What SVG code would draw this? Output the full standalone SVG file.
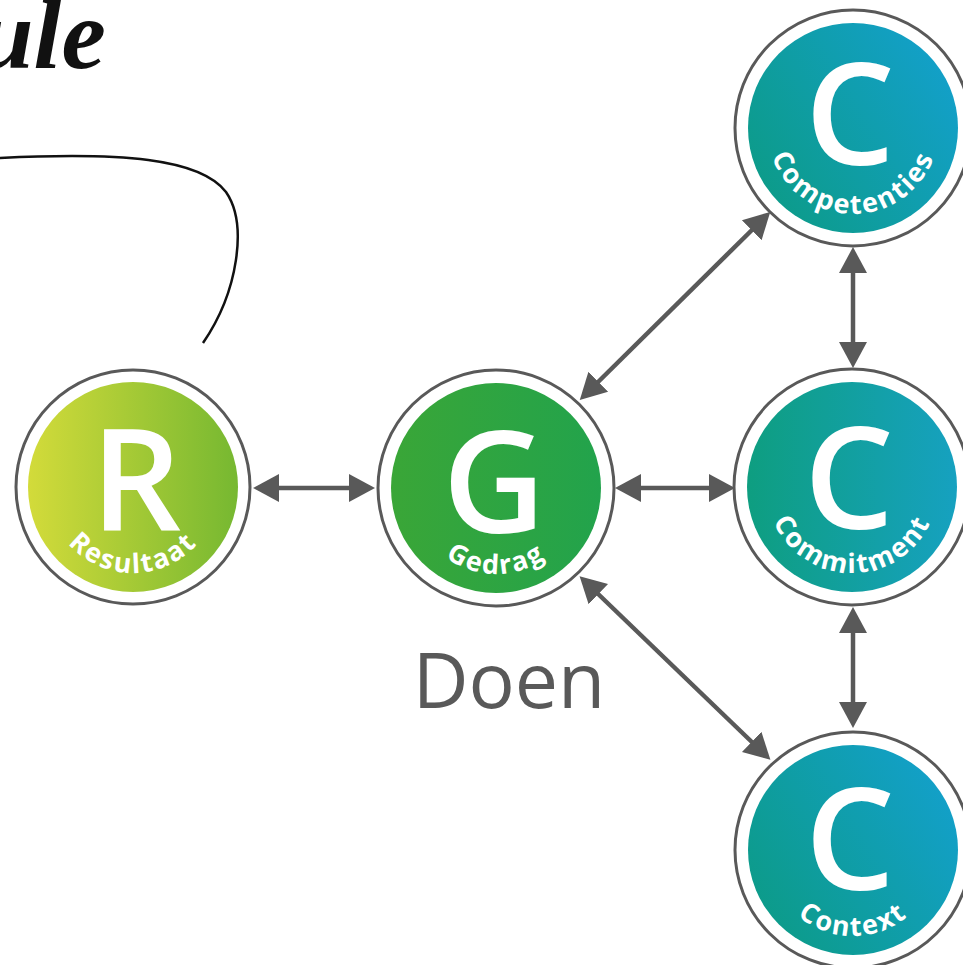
<svg xmlns="http://www.w3.org/2000/svg" width="963" height="965" viewBox="0 0 963 965">
<style>
.ring{fill:#fff;stroke:#595959;stroke-width:3}
.big{font-family:"Open Sans","DejaVu Sans",sans-serif;font-weight:600;font-size:142px;fill:#fff;text-anchor:middle}
.lbl{font-family:"Open Sans","DejaVu Sans",sans-serif;font-weight:700;font-size:27px;fill:#fff;letter-spacing:2px;text-anchor:middle}
.con{stroke:#595959;stroke-width:4.5;fill:none;marker-start:url(#ah);marker-end:url(#ah)}
</style>
<defs>
<marker id="ah" markerUnits="userSpaceOnUse" markerWidth="28" markerHeight="30" refX="6" refY="14" orient="auto-start-reverse" viewBox="0 0 28 28">
<path d="M0,0 L26,14 L0,28 z" fill="#595959"/>
</marker>
<linearGradient id="gR" x1="0" y1="0" x2="1" y2="0"><stop offset="0" stop-color="#d3db3a"/><stop offset="1" stop-color="#76b831"/></linearGradient>
<linearGradient id="gG" x1="0" y1="0" x2="1" y2="0"><stop offset="0" stop-color="#3aa637"/><stop offset="1" stop-color="#22a34c"/></linearGradient>
<linearGradient id="gC" x1="0" y1="0.8" x2="1" y2="0.2"><stop offset="0" stop-color="#0c9b86"/><stop offset="1" stop-color="#13a0cc"/></linearGradient>
<linearGradient id="gC2" x1="0" y1="0" x2="1" y2="0"><stop offset="0" stop-color="#0e9e80"/><stop offset="1" stop-color="#16a1c0"/></linearGradient>
<path id="aR" d="M47,487 A86,86 0 0 0 219,487"/>
<path id="aG" d="M410,488 A86,86 0 0 0 582,488"/>
<path id="aC1" d="M767,128 A86,86 0 0 0 939,128"/>
<path id="aC2" d="M766,487 A86,86 0 0 0 938,487"/>
<path id="aC3" d="M767,850 A86,86 0 0 0 939,850"/>
</defs>
<rect width="963" height="965" fill="#fff"/>
<text x="-22" y="68" font-family="'Liberation Serif',serif" font-style="italic" font-weight="bold" font-size="100" fill="#111">ule</text>
<path d="M0,158 C120,152 200,158 226,192 C248,224 238,292 203,343" fill="none" stroke="#111" stroke-width="2.5"/>
<g id="connectors">
<line class="con" x1="273" y1="488" x2="355" y2="488"/>
<line class="con" x1="635" y1="488" x2="715" y2="488"/>
<line class="con" x1="853" y1="267" x2="853" y2="348"/>
<line class="con" x1="853" y1="627" x2="853" y2="708"/>
<line class="con" x1="594" y1="386" x2="756" y2="226"/>
<line class="con" x1="594" y1="590" x2="756" y2="746"/>
</g>
<g id="resultaat">
<circle class="ring" cx="133" cy="487" r="117"/>
<circle cx="133" cy="487" r="105" fill="url(#gR)"/>
<text class="big" x="136" y="531">R</text>
<text class="lbl"><textPath href="#aR" startOffset="50%">Resultaat</textPath></text>
</g>
<g id="gedrag">
<circle class="ring" cx="496" cy="488" r="118"/>
<circle cx="496" cy="488" r="105" fill="url(#gG)"/>
<text class="big" x="494" y="533">G</text>
<text class="lbl"><textPath href="#aG" startOffset="50%">Gedrag</textPath></text>
</g>
<g id="competenties">
<circle class="ring" cx="853" cy="128" r="118"/>
<circle cx="853" cy="128" r="105" fill="url(#gC)"/>
<text class="big" x="850" y="165">C</text>
<text class="lbl"><textPath href="#aC1" startOffset="50%">Competenties</textPath></text>
</g>
<g id="commitment">
<circle class="ring" cx="852" cy="487" r="118"/>
<circle cx="852" cy="487" r="105" fill="url(#gC2)"/>
<text class="big" x="849" y="529">C</text>
<text class="lbl"><textPath href="#aC2" startOffset="50%">Commitment</textPath></text>
</g>
<g id="context">
<circle class="ring" cx="853" cy="850" r="118"/>
<circle cx="853" cy="850" r="105" fill="url(#gC)"/>
<text class="big" x="850" y="890">C</text>
<text class="lbl"><textPath href="#aC3" startOffset="50%">Context</textPath></text>
</g>
<text x="509" y="708" font-family="'Open Sans','DejaVu Sans',sans-serif" font-size="77" fill="#595959" text-anchor="middle">Doen</text>
</svg>
